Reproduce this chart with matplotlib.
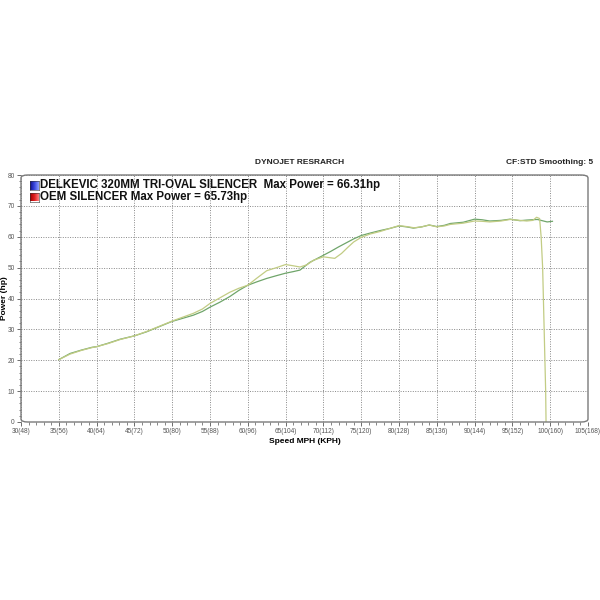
import numpy as np
import matplotlib
matplotlib.use("Agg")
import matplotlib.pyplot as plt
from matplotlib.patches import FancyBboxPatch
from matplotlib.colors import LinearSegmentedColormap

plt.rcParams['font.family'] = ['Liberation Sans', 'DejaVu Sans']

# ---- data ----
x_ticks = [30, 35, 40, 45, 50, 55, 60, 65, 70, 75, 80, 85, 90, 95, 100, 105]
x_tick_labels = ["30(48)", "35(56)", "40(64)", "45(72)", "50(80)", "55(88)", "60(96)",
                 "65(104)", "70(112)", "75(120)", "80(128)", "85(136)", "90(144)",
                 "95(152)", "100(160)", "105(168)"]
y_ticks = [0, 10, 20, 30, 40, 50, 60, 70, 80]

oem_mph = [35, 36.5, 38, 39.4, 40, 41.5, 43.1, 45, 46.6, 48.4, 50, 51, 52.8, 54, 55,
           56.3, 57.6, 58.8, 60, 61.2, 62.5, 63.8, 65, 66, 66.9, 68.2, 70, 71, 72, 73,
           74, 75, 76.2, 77.5, 78.8, 80, 81, 81.9, 83, 84, 85, 86, 86.8, 88.5, 90, 91,
           92, 93.5, 94.7, 96, 96.9, 98.3, 99.6, 100.3]
oem_hp = [20.2, 22.2, 23.3, 24.2, 24.4, 25.5, 26.8, 27.9, 29.2, 31.0, 32.6, 33.3, 34.6,
          35.8, 37.2, 38.8, 40.6, 42.6, 44.3, 45.4, 46.5, 47.4, 48.2, 48.7, 49.2, 51.7,
          54.0, 55.3, 56.7, 58.0, 59.3, 60.4, 61.2, 62.0, 62.7, 63.5, 63.2, 62.8, 63.2,
          63.8, 63.3, 63.7, 64.3, 64.7, 65.7, 65.5, 65.1, 65.3, 65.7, 65.2, 65.4, 65.6,
          64.8, 65.0]

dk_mph = [35, 36.5, 38, 39.4, 40, 41.5, 43.1, 45, 46.6, 48.4, 50, 51, 52.8, 54, 55,
          56.3, 57.6, 58.8, 60, 61.2, 62.5, 63.8, 65, 66, 66.9, 67.8, 68.7, 70, 71.5,
          72.4, 73.2, 74, 75, 76.2, 77.5, 78.8, 80, 81, 82, 83, 84, 85, 86, 86.8, 88.5,
          90, 91, 92, 93.5, 94.7, 96, 96.9, 97.7, 98.2, 98.6, 98.8, 99.0, 99.1, 99.2,
          99.3, 99.4, 99.45]
dk_hp = [20.2, 22.0, 23.2, 24.1, 24.4, 25.4, 26.7, 27.9, 29.3, 31.1, 32.7, 33.6, 35.2,
         36.6, 38.4, 40.2, 42.0, 43.3, 44.3, 46.6, 49.0, 50.0, 51.0, 50.6, 50.2, 50.9,
         52.4, 53.5, 53.0, 54.6, 56.5, 58.3, 59.8, 60.9, 61.7, 62.7, 63.6, 63.3, 62.9,
         63.2, 63.8, 63.2, 63.5, 64.0, 64.4, 65.1, 65.0, 64.8, 65.1, 65.6, 65.3, 65.1,
         65.3, 66.31, 65.9, 60, 50, 40, 30, 20, 10, 0]

legend_1 = "DELKEVIC 320MM TRI-OVAL SILENCER  Max Power = 66.31hp"
legend_2 = "OEM SILENCER Max Power = 65.73hp"

# ---- figure ----
fig = plt.figure(figsize=(6, 6), dpi=100)
fig.patch.set_facecolor('white')
L, R, B, T = 21/600, 588/600, 1-422/600, 1-175/600
ax = fig.add_axes([L, B, R-L, T-B])

ax.plot(oem_mph, oem_hp, color='#6fa56a', lw=0.9, zorder=3)
ax.plot(dk_mph, dk_hp, color='#c2cc84', lw=0.9, zorder=3)

ax.set_xlim(30, 105)
ax.set_ylim(0, 80)
ax.set_xticks(x_ticks)
ax.set_xticklabels(x_tick_labels)
ax.set_yticks(y_ticks)
ax.set_xticks(np.arange(30, 105.1, 1), minor=True)
ax.set_yticks(np.arange(0, 80.1, 2), minor=True)
ax.tick_params(axis='both', which='major', labelsize=4.7, labelcolor='#555555',
               color='#555555', length=3, width=0.6, pad=1.5)
ax.tick_params(axis='both', which='minor', color='#555555', length=1.8, width=0.5)
ax.grid(True, which='major', linestyle=(0, (1, 1.5)), color='#888888', lw=0.7)

for s in ax.spines.values():
    s.set_visible(False)
box = FancyBboxPatch((0, 0), 1, 1, boxstyle="round,pad=0,rounding_size=0.012",
                     transform=ax.transAxes, fill=False, edgecolor='#7a7a7a',
                     lw=1.0, zorder=4, clip_on=False)
ax.add_patch(box)

ax.set_xlabel("Speed MPH (KPH)", fontsize=6, fontweight='bold', labelpad=2)
fig.text(5/600, 1-298/600, "Power (hp)", rotation=90, ha='center', va='center',
         fontsize=6, fontweight='bold')

fig.text(0.5, 1-162/600, "DYNOJET RESRARCH", ha='center', va='center',
         fontsize=6, fontweight='bold', color='#222222')
fig.text(593/600, 1-162/600, "CF:STD Smoothing: 5", ha='right', va='center',
         fontsize=6, fontweight='bold', color='#222222')

# legend squares with gradients
grad = np.linspace(0, 1, 64).reshape(1, -1)
blue = LinearSegmentedColormap.from_list('b', ['#10108a', '#3a48e0', '#8fa0ff'])
red = LinearSegmentedColormap.from_list('r', ['#a00000', '#e02020', '#ff8080'])
for (y0, cmap) in [(180.5, blue), (192.5, red)]:
    sq = fig.add_axes([30/600, 1-(y0+9)/600, 9/600, 9/600])
    sq.imshow(grad, cmap=cmap, aspect='auto')
    sq.set_xticks([]); sq.set_yticks([])
    for s in sq.spines.values():
        s.set_color('#333333'); s.set_linewidth(0.4)

fig.text(40.5/600, 1-185/600, legend_1, ha='left', va='center', fontsize=8.3,
         fontweight='bold', color='#111111')
fig.text(40.5/600, 1-197.5/600, legend_2, ha='left', va='center', fontsize=8.3,
         fontweight='bold', color='#111111')

fig.savefig("out.png", dpi=100, facecolor='white')
